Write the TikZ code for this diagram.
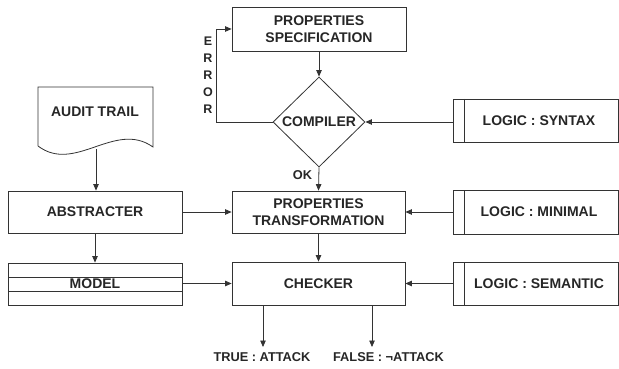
\documentclass[tikz,border=0pt]{standalone}
\usepackage{fontspec}
\setmainfont{Liberation Sans}
\usetikzlibrary{shapes.geometric,arrows.meta}
\begin{document}
\begin{tikzpicture}[x=1pt,y=-1pt,
  every node/.style={font=\fontsize{14}{16.5}\selectfont\bfseries, text=black!85},
  box/.style={draw=black!80, line width=0.8pt, inner sep=0pt, align=center},
  lbl/.style={inner sep=0pt, font=\fontsize{12.8}{14}\selectfont\bfseries, text=black!85},
  conn/.style={draw=black!80, line width=0.8pt},
  arr/.style={conn, -{Triangle[length=6.5pt,width=5.5pt]}}]
\useasboundingbox (0,0) rectangle (619,369);
% boxes
\node[box, minimum width=174pt, minimum height=44pt] (spec) at (319,29) {PROPERTIES\\SPECIFICATION};
\node[box, diamond, minimum width=92pt, minimum height=90pt] (comp) at (319,122) {};
\node (compt) at (comp.center) {COMPILER};
\node[box, minimum width=174pt, minimum height=42pt] (abs) at (95,212) {ABSTRACTER};
\node[box, minimum width=173pt, minimum height=42pt] (ptr) at (318.5,212) {PROPERTIES\\TRANSFORMATION};
\node[box, minimum width=174pt, minimum height=42pt] (model) at (95,284) {};
\draw[conn] (8,277) -- (182,277) (8,291) -- (182,291);
\node (modelt) at (95,283.5) {MODEL};
\node[box, minimum width=173pt, minimum height=43pt] (chk) at (318.5,283.5) {CHECKER};
% logic boxes
\node[box, minimum width=165pt, minimum height=43pt] (syn) at (535.5,120.5) {};
\node[box, minimum width=165pt, minimum height=44pt] (min) at (535.5,212) {};
\node[box, minimum width=165pt, minimum height=43pt] (sem) at (535.5,283.5) {};
\draw[conn] (464,99) -- (464,142) (464,190) -- (464,234) (464,262) -- (464,305);
\node (synt) at (539,121) {LOGIC : SYNTAX};
\node (mint) at (539,212) {LOGIC : MINIMAL};
\node (semt) at (539,283.5) {LOGIC : SEMANTIC};
% audit trail document
\coordinate (a1) at (38,87);
\coordinate (a2) at (153,87);
\coordinate (a3) at (153,147);
\coordinate (a4) at (38,146);
\draw[conn] (a4) -- (a1) -- (a2) -- (a3) .. controls (115,120) and (75,174) .. (a4);
\node (audit) at (95,112) {AUDIT TRAIL};
\coordinate (auditb) at (96,149);
% connectors
\draw[arr] (spec.south) -- (comp.north);
\coordinate (e1) at (216,122);
\coordinate (e2) at (216,29);
\draw[arr] (comp.west) -- (e1) -- (e2) -- (spec.west);
\node[lbl, align=center, font=\fontsize{12.5}{17}\selectfont\bfseries] (err) at (208,75) {E\\R\\R\\O\\R};
\draw[arr] (syn.west |- comp.east) -- (comp.east);
\draw[arr] (comp.south) -- (ptr.north);
\node[lbl] (ok) at (302.5,175) {OK};
\draw[arr] (auditb) -- (abs.north -| auditb);
\draw[arr] (abs.east) -- (ptr.west);
\draw[arr] (min.west) -- (ptr.east);
\draw[arr] (abs.south) -- (model.north);
\draw[arr] (ptr.south) -- (chk.north);
\draw[arr] (model.east |- chk.west) -- (chk.west);
\draw[arr] (sem.west) -- (chk.east);
\coordinate (t1) at (263,347);
\coordinate (f1) at (372,347);
\draw[arr] (chk.south -| t1) -- (t1);
\draw[arr] (chk.south -| f1) -- (f1);
\node[lbl] (tt) at (262,357.5) {TRUE : ATTACK};
\node[lbl] (ft) at (388.5,357.5) {FALSE : ¬ATTACK};
\end{tikzpicture}
\end{document}
